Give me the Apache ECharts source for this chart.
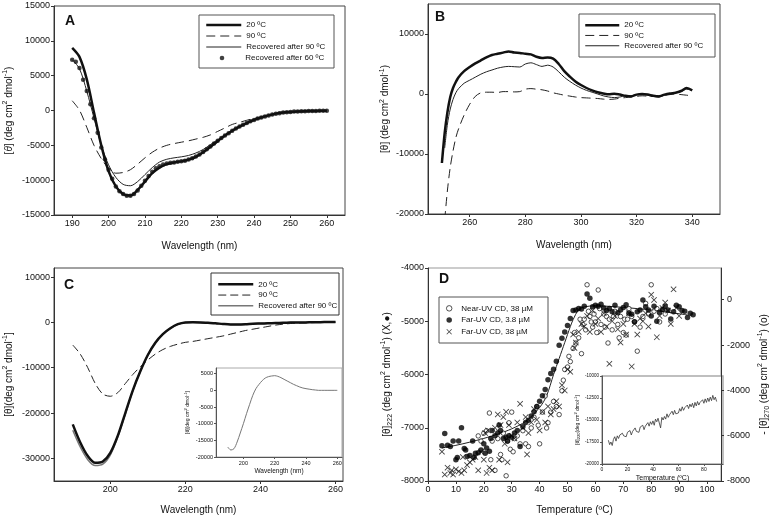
<!DOCTYPE html>
<html><head><meta charset="utf-8">
<script src="https://cdn.jsdelivr.net/npm/echarts@6/dist/echarts.min.js"></script>
<style>html,body{margin:0;padding:0;background:#fff}#c{width:772px;height:520px}</style>
</head><body><div id="c"></div>
<script>
// ---------- Panel A (far-UV CD) ----------
const wlA = [190,192,194,196,198,200,202,204,206,208,210,212,214,216,218,220,222,224,226,228,230,232,234,236,238,240,242,244,246,248,250,252,254,256,258,260];
const a20 = [9000,7700,4500,-300,-5000,-8700,-10900,-12000,-12200,-11400,-10200,-9000,-8200,-7700,-7450,-7300,-7050,-6650,-6000,-5200,-4400,-3600,-2900,-2300,-1800,-1350,-1000,-700,-450,-300,-200,-130,-90,-70,-50,-40];
const a90 = [1400,50,-2400,-5000,-6900,-8300,-9000,-8900,-8500,-7700,-6800,-6000,-5400,-5000,-4750,-4550,-4350,-4100,-3850,-3500,-3000,-2500,-2000,-1700,-1400,-1150,-900,-650,-450,-300,-200,-130,-90,-70,-50,-40];
const a90r = [7300,6000,2800,-1100,-5000,-7800,-9600,-10600,-10800,-10200,-9200,-8200,-7400,-7000,-6800,-6650,-6450,-6100,-5600,-4900,-4200,-3500,-2850,-2300,-1800,-1350,-1000,-700,-450,-300,-200,-130,-90,-70,-50,-40];
const wlA1 = [190,191,192,193,194,195,196,197,198,199,200,201,202,203,204,205,206,207,208,209,210,211,212,213,214,215,216,217,218,219,220,221,222,223,224,225,226,227,228,229,230,231,232,233,234,235,236,237,238,239,240,241,242,243,244,245,246,247,248,249,250,251,252,253,254,255,256,257,258,259,260];
const a60r = [7300,7000,6100,4400,2800,900,-1100,-3200,-5300,-7000,-8500,-9800,-10900,-11600,-12000,-12250,-12250,-12000,-11500,-10800,-10100,-9400,-8800,-8300,-8000,-7750,-7600,-7500,-7450,-7350,-7300,-7200,-7050,-6850,-6600,-6300,-5950,-5550,-5150,-4750,-4350,-3950,-3600,-3250,-2900,-2600,-2300,-2050,-1800,-1550,-1350,-1150,-1000,-850,-700,-580,-470,-380,-300,-250,-200,-160,-130,-110,-90,-80,-70,-60,-50,-50,-40];
const ticksAx = [190,200,210,220,230,240,250,260];

// ---------- Panel B (near-UV CD) ----------
const wlB = [250,251,252,253,254,255,256,258,260,262,264,266,268,270,272,274,276,278,280,282,284,286,288,290,292,294,296,298,300,302,304,306,308,310,312,314,316,318,320,322,324,326,328,330,332,334,336,338,340];
const b20 = [-11500,-6500,-3000,-500,1000,2000,2800,3800,4500,5100,5600,6100,6500,6700,6900,7100,6900,6850,6700,6600,6200,6000,6100,5900,5000,3800,2900,2100,1500,1000,600,300,100,-50,50,-100,-300,-400,-100,0,-100,-300,-400,-100,100,200,500,1000,600];
const b90 = [null,-21000,-16000,-12200,-9500,-7300,-5800,-3500,-1700,-400,200,300,300,250,400,400,350,400,800,900,800,700,500,200,0,-200,-350,-500,-600,-650,-700,-750,-850,-900,-850,-700,-600,-500,-400,-300,-350,-300,-250,-200,-100,0,-100,-200,-300];
const b90r = [null,-9000,-5000,-2500,-900,200,900,1800,2300,2800,3300,3700,4000,4300,4500,4600,4550,4500,5000,5200,4900,4600,4800,4500,3700,2800,2100,1500,1000,600,300,0,-300,-500,-600,-500,-300,-300,-100,0,-200,-400,-500,-200,0,200,400,800,700];
const ticksBx = [260,280,300,320,340];
const ticksBy = [-20000,-10000,0,10000];

// ---------- Panel C ----------
const wlC = [190,192,194,196,198,200,202,204,206,208,210,212,214,216,218,220,222,224,226,228,230,232,234,236,238,240,242,244,246,248,250,252,254,256,258,260];
const c20 = [-22500,-26500,-29500,-31000,-30700,-28800,-25000,-20000,-15000,-10800,-7200,-4500,-2600,-1300,-400,0,50,0,-100,-200,-350,-450,-450,-400,-300,-250,-200,-150,-100,-50,0,0,50,50,100,100];
const c90 = [-5000,-7000,-10000,-13500,-15800,-16300,-15500,-13500,-11500,-9800,-8300,-7000,-6000,-5300,-4800,-4400,-4200,-3900,-3600,-3300,-3000,-2600,-2200,-1800,-1500,-1200,-900,-600,-400,-250,-150,-100,-50,0,0,0];
const c90r = [-23800,-27500,-30300,-31600,-31300,-29300,-25300,-20200,-15100,-10800,-7200,-4500,-2600,-1300,-400,0,50,0,-100,-200,-350,-450,-450,-400,-300,-250,-200,-150,-100,-50,0,0,50,50,100,100];
const cInset = [-17000,-17900,-17500,-15500,-12800,-10000,-7000,-4200,-1500,500,1800,2900,3700,4100,4300,4400,4200,3800,3300,2800,2300,1800,1400,1000,700,500,350,200,100,0,0,0,0,0,0,0];
const ticksCx = [200,220,240,260];
const ticksCy = [-30000,-20000,-10000,0,10000];
const ticksCix = [200,220,240,260];
const ticksCiy = [-20000,-15000,-10000,-5000,0,5000];

// ---------- Panel D (thermal unfolding) ----------
const tFar38 = [5,6,7,8,9,10,10.5,11,12,13,13.5,14,15,16,16.5,17,18,19,20,20.5,21,22,22.5,23,24,25,25.5,26,27,28,28.5,29,30,31,32,33,34,35,36,37,38,39,40,41,42,43,44,45,46,47,48,49,50,51,52,53,54,55,56,57,58,59,60,61,62,63,64,65,66,67,68,69,70,71,72,73,74,75,76,77,78,79,80,81,82,83,84,85,86,87,88,89,90,91,92,93,94,95];
const vFar38 = [-7340,-7110,-7330,-7350,-7250,-7600,-7560,-7250,-7000,-7390,-7420,-7540,-7520,-7250,-7560,-7480,-7470,-7420,-7300,-7480,-7380,-7440,-7200,-7050,-7150,-7100,-6950,-7050,-7200,-7180,-7250,-7150,-7180,-7100,-7050,-7350,-6980,-6900,-6860,-6780,-6700,-6600,-6500,-6400,-6280,-6100,-5980,-5900,-5750,-5450,-5320,-5200,-5080,-4950,-4800,-4790,-4760,-4770,-4720,-4490,-4570,-4730,-4700,-4720,-4680,-4750,-4800,-4760,-4820,-4700,-4840,-4790,-4740,-4690,-4850,-4870,-5010,-4820,-4790,-4600,-4730,-4790,-4900,-4720,-5000,-4830,-4780,-4720,-4790,-4960,-4820,-4700,-4730,-4800,-4810,-4930,-4850,-4880];
const tFar380 = [5,6,7,8,8.5,9,10,11,12,12.5,13,14,15,16,17,18,19,20,20.5,21,21.5,22,23,24,25,25.5,26,27,27.5,28,28.5,29,30,31,32,33,34,35,35.5,36,37,38,39,40,41,42,43,44,45,46,47,48,49,50,51,52,52.5,53,54,55,56,57,58,59,60,61,62,63,64,65,66,67,68,69,70,71,72,73,74,75,76,77,78,79,80,81,82,83,84,85,86,87,88,89,90];
const vFar380 = [-7450,-7880,-7750,-7850,-7800,-7880,-7780,-7820,-7850,-7550,-7800,-7700,-7650,-7600,-7550,-7800,-7450,-7600,-7100,-7850,-7050,-7750,-7800,-7000,-6750,-7600,-6950,-6800,-7300,-6700,-7650,-6950,-7150,-7200,-6900,-6550,-7000,-6800,-7500,-7100,-6900,-6650,-6850,-7050,-6700,-6900,-6600,-6750,-6650,-6500,-6600,-6200,-6300,-5900,-5950,-5250,-5500,-5400,-5200,-5050,-5100,-4900,-5200,-4800,-5050,-4950,-5200,-4850,-5100,-5800,-5000,-4900,-5150,-5400,-5050,-5250,-4850,-5850,-5050,-5250,-4950,-5000,-4850,-5100,-4500,-4600,-5300,-4900,-4750,-4650,-4800,-5050,-4400,-4750,-4900];
const tNear = [18,19,20,21,22,22.5,23,24,25,26,26.5,27,28,28.5,29,29.5,30,30.5,31,32,33,34,35,36,37,38,39,39.5,40,41,42,42.5,43,44,45,46,47,48,48.5,49,50,50.5,51,52,52.5,53,54,54.5,55,55.5,56,56.5,57,57.5,58,58.5,59,59.5,60,60.5,61,61.5,62,63,63.5,64,64.5,65,66,66.5,67,68,68.5,69,70,70.5,71,71.5,72,73,74,75,76,77,78,79,80,81,82,83,85];
const vNear = [-6010,-6240,-5890,-5780,-5000,-7060,-6240,-7530,-6130,-6830,-7060,-5890,-7770,-6240,-5430,-6600,-4960,-6710,-6130,-6010,-6360,-5780,-6360,-6480,-5660,-5190,-4720,-5540,-6360,-4960,-4250,-5660,-5430,-4960,-4490,-4720,-5070,-4020,-3550,-3080,-2970,-2500,-2730,-2150,-1450,-1910,-1680,-860,-2380,-1090,-860,-1330,660,-510,-740,-980,-1210,-630,-980,-1450,430,-390,-1090,-630,-1210,-740,-1910,-860,-1330,-740,-510,-1090,-1680,-740,-1450,-860,-1560,-860,-390,-740,-980,-2270,-1210,-740,-160,-630,660,-510,-390,-980,-630];
const tFit = [5,10,15,20,25,30,35,40,42.5,45,47,49,51,52,54,56,60,70,80,90,93];
const vFit = [-7380,-7330,-7270,-7200,-7120,-7020,-6880,-6620,-6400,-6000,-5700,-5400,-5100,-4970,-4780,-4730,-4710,-4740,-4790,-4860,-4880];
const tInset = [5,6,7,8,9,10,11,12,13,14,15,16,17,18,19,20,21,22,23,24,25,26,27,28,29,30,31,32,33,34,35,36,37,38,39,40,41,42,43,44,45,46,47,48,49,50,51,52,53,54,55,56,57,58,59,60,61,62,63,64,65,66,67,68,69,70,71,72,73,74,75,76,77,78,79,80,81,82,83,84,85,86,87,88,89,90];
const vInset = [-17300,-17800,-17500,-17900,-17200,-16900,-17400,-16800,-17100,-16700,-16900,-16500,-16800,-16600,-16900,-16400,-16600,-16200,-16700,-16300,-16400,-15900,-16300,-16100,-16400,-15800,-16000,-15600,-16100,-15700,-15800,-15300,-15700,-15200,-15500,-15100,-15600,-14900,-15200,-14800,-15000,-15900,-14700,-15000,-14600,-14900,-14300,-14700,-14400,-14600,-14000,-14400,-13900,-14300,-14100,-14200,-13700,-14000,-13500,-13900,-13600,-13800,-13300,-13700,-13200,-13500,-13100,-13600,-13000,-13400,-12900,-13300,-13000,-13200,-12700,-13100,-12600,-13000,-12500,-12900,-12400,-12800,-12200,-12700,-12400,-12900];
const ticksDx = [0,10,20,30,40,50,60,70,80,90,100];
const ticksDyR = [-8000,-6000,-4000,-2000,0];
const ticksDix = [0,20,40,60,80];

// ---------- helpers ----------
const F = '"Liberation Sans", Arial, sans-serif';
const zip = (xs, ys) => xs.map((x, i) => [x, ys[i]]);
function rich(s) {
  return {
    sup: {fontFamily: F, fontSize: Math.round(s * 0.7), lineHeight: Math.round(s * 0.8), verticalAlign: 'top', color: '#111'},
    sub: {fontFamily: F, fontSize: Math.round(s * 0.7), lineHeight: Math.round(s * 0.8), verticalAlign: 'bottom', color: '#111'},
    it: {fontFamily: F, fontSize: s, fontStyle: 'italic', color: '#111'}
  };
}
function ax(o) {
  const nfs = o.nfs || 10, fs = o.fs || 9;
  const a = {
    type: 'value', gridIndex: o.grid, min: o.min, max: o.max,
    position: o.pos,
    name: o.name, nameLocation: 'middle', nameGap: o.gap,
    nameTextStyle: {fontFamily: F, fontSize: nfs, color: '#111', lineHeight: Math.round(nfs * 1.4), rich: rich(nfs)},
    axisLine: {show: true, onZero: false, lineStyle: {color: o.lc || '#333', width: 1}},
    axisTick: {show: true, length: o.tl || 3, inside: false, lineStyle: {color: o.lc || '#333'}},
    axisLabel: {fontFamily: F, fontSize: fs, color: '#111', margin: o.margin || 4, formatter: v => String(v)},
    splitLine: {show: false}
  };
  if (o.rot !== undefined) a.nameRotate = o.rot;
  if (o.ticks) { a.axisLabel.customValues = o.ticks; a.axisTick.customValues = o.ticks; }
  else { a.interval = o.interval; }
  return a;
}
const ZW = '\u200b';
const lineS = (name, x, y, yi, data, width, color, dash, z) => ({
  type: 'line', name, xAxisIndex: x, yAxisIndex: yi, data, symbol: 'none', showSymbol: false,
  smooth: 0.3, animation: false, z: z || 2,
  lineStyle: {width, color, type: dash || 'solid'}, itemStyle: {color}
});
const crossPath = 'path://M1,0L5,4L9,0L10,1L6,5L10,9L9,10L5,6L1,10L0,9L4,5L0,1Z';

const nA = ['20 ºC', '90 ºC', 'Recovered after 90 ºC', 'Recovered after 60 ºC'];
const nB = ['20 ºC' + ZW, '90 ºC' + ZW, 'Recovered after 90 ºC' + ZW];
const nC = ['20 ºC' + ZW + ZW, '90 ºC' + ZW + ZW, 'Recovered after 90 ºC' + ZW + ZW];
const nD = ['Near-UV CD, 38 µM', 'Far-UV CD, 3.8 µM', 'Far-UV CD, 38 µM'];

const legTxt = (lh) => ({fontFamily: F, fontSize: 8, color: '#111', lineHeight: lh});
const lineItem = (name, w) => ({name, lineStyle: {width: w}, itemStyle: {opacity: 0}});

const option = {
  animation: false,
  textStyle: {fontFamily: F},
  grid: [
    {left: 54, top: 6, width: 291, height: 209, show: true, borderColor: '#444', borderWidth: 1},
    {left: 428, top: 4, width: 292, height: 210, show: true, borderColor: '#444', borderWidth: 1},
    {left: 54, top: 268, width: 289, height: 213, show: true, borderColor: '#444', borderWidth: 1},
    {left: 428, top: 268, width: 293, height: 213, show: true, borderColor: '#999', borderWidth: 1},
    {left: 216, top: 368, width: 126, height: 89, show: true, borderColor: '#aaa', borderWidth: 1, backgroundColor: '#fff'},
    {left: 602, top: 376, width: 121, height: 88, show: true, borderColor: '#aaa', borderWidth: 1.5, backgroundColor: '#fff'}
  ],
  xAxis: [
    ax({grid: 0, min: 185, max: 265, ticks: ticksAx, pos: 'bottom', name: 'Wavelength (nm)', gap: 24}),
    ax({grid: 1, min: 245, max: 350, ticks: ticksBx, pos: 'bottom', name: 'Wavelength (nm)', gap: 24}),
    ax({grid: 2, min: 185, max: 262, ticks: ticksCx, pos: 'bottom', name: 'Wavelength (nm)', gap: 22}),
    ax({grid: 3, min: 0, max: 105, ticks: ticksDx, pos: 'bottom', name: 'Temperature (ºC)', gap: 22}),
    ax({grid: 4, min: 182.5, max: 263, ticks: ticksCix, pos: 'bottom', name: 'Wavelength (nm)', gap: 6, fs: 5.5, nfs: 6.5, margin: 3, tl: 2, lc: '#555'}),
    ax({grid: 5, min: 0, max: 95, ticks: ticksDix, pos: 'bottom', name: 'Temperature (ºC)', gap: 6, fs: 5, nfs: 7, margin: 3, tl: 2, lc: '#555'})
  ],
  yAxis: [
    ax({grid: 0, min: -15000, max: 15000, interval: 5000, pos: 'left', name: '[{it|θ}] (deg cm{sup|2} dmol{sup|-1})', gap: 38, rot: 90}),
    ax({grid: 1, min: -20000, max: 15000, ticks: ticksBy, pos: 'left', name: '[θ] (deg cm{sup|2} dmol{sup|-1})', gap: 34, rot: 90}),
    ax({grid: 2, min: -35000, max: 12000, ticks: ticksCy, pos: 'left', name: '[θ](deg cm{sup|2} dmol{sup|-1}]', gap: 38, rot: 90}),
    ax({grid: 3, min: -8000, max: -4000, interval: 1000, pos: 'left', name: '[θ]{sub|222} (deg cm{sup|2} dmol{sup|-1}) (X,●)', gap: 34, rot: 90}),
    ax({grid: 3, min: -8000, max: 1400, ticks: ticksDyR, pos: 'right', name: '- [θ]{sub|270} (deg cm{sup|2} dmol{sup|-1}) (o)', gap: 36, rot: 90, margin: 6}),
    ax({grid: 4, min: -20000, max: 6700, ticks: ticksCiy, pos: 'left', name: '[θ](deg cm{sup|2} dmol{sup|-1}]', gap: 25, fs: 5.5, nfs: 5, margin: 3, tl: 2, rot: 90, lc: '#555'}),
    ax({grid: 5, min: -20000, max: -10000, interval: 2500, pos: 'left', name: '[θ]{sub|220}(deg cm{sup|2} dmol{sup|-1}]', gap: 17, fs: 4.5, nfs: 5, margin: 3, tl: 2, rot: 90, lc: '#555'})
  ],
  legend: [
    {left: 205, top: 19.5, orient: 'vertical', padding: 0, itemGap: 0, itemWidth: 35, itemHeight: 11, selectedMode: false, textStyle: legTxt(11),
      data: [lineItem(nA[0], 2.5), lineItem(nA[1], 1), lineItem(nA[2], 1)]},
    {left: 219.7, top: 52.5, orient: 'vertical', padding: 0, itemGap: 0, itemWidth: 4.6, itemHeight: 4.6, selectedMode: false,
      textStyle: Object.assign(legTxt(11), {padding: [0, 0, 0, 16]}),
      data: [nA[3]]},
    {left: 584, top: 20, orient: 'vertical', padding: 0, itemGap: 0, itemWidth: 34, itemHeight: 10.3, selectedMode: false, textStyle: legTxt(10.3),
      data: [lineItem(nB[0], 2.5), lineItem(nB[1], 1), lineItem(nB[2], 1)]},
    {left: 217, top: 279, orient: 'vertical', padding: 0, itemGap: 0, itemWidth: 35, itemHeight: 10.7, selectedMode: false, textStyle: legTxt(10.7),
      data: [lineItem(nC[0], 2.5), lineItem(nC[1], 1), lineItem(nC[2], 1.5)]},
    {left: 446, top: 302.5, orient: 'vertical', padding: 0, itemGap: 0, itemWidth: 14, itemHeight: 5.5, selectedMode: false, textStyle: legTxt(11.7),
      data: [{name: nD[0], itemStyle: {borderWidth: 0.9}}, nD[1], nD[2]]}
  ],
  graphic: [
    {type: 'rect', shape: {x: 199, y: 15, width: 135, height: 53}, style: {fill: '#fff', stroke: '#555', lineWidth: 1}, z: 3},
    {type: 'rect', shape: {x: 579, y: 14, width: 136, height: 43}, style: {fill: '#fff', stroke: '#555', lineWidth: 1}, z: 3},
    {type: 'rect', shape: {x: 211, y: 273, width: 128, height: 42}, style: {fill: '#fff', stroke: '#333', lineWidth: 1}, z: 3},
    {type: 'rect', shape: {x: 439, y: 297, width: 109, height: 46}, style: {fill: '#fff', stroke: '#555', lineWidth: 1}, z: 3},
    {type: 'text', x: 65, y: 14, z: 5, style: {text: 'A', font: 'bold 14px ' + F, fill: '#111', verticalAlign: 'top'}},
    {type: 'text', x: 435, y: 10, z: 5, style: {text: 'B', font: 'bold 14px ' + F, fill: '#111', verticalAlign: 'top'}},
    {type: 'text', x: 64, y: 278, z: 5, style: {text: 'C', font: 'bold 14px ' + F, fill: '#111', verticalAlign: 'top'}},
    {type: 'text', x: 439, y: 272, z: 5, style: {text: 'D', font: 'bold 14px ' + F, fill: '#111', verticalAlign: 'top'}}
  ],
  series: [
    // A
    lineS(nA[1], 0, 0, 0, zip(wlA, a90), 1, '#222', [9, 5]),
    lineS(nA[2], 0, 0, 0, zip(wlA, a90r), 1, '#222'),
    lineS(nA[0], 0, 0, 0, zip(wlA, a20), 2.5, '#111'),
    {type: 'scatter', name: nA[3], xAxisIndex: 0, yAxisIndex: 0, data: zip(wlA1, a60r), symbol: 'circle', symbolSize: 4.5, itemStyle: {color: '#111'}, z: 3},
    // B
    lineS(nB[1], 1, 1, 1, zip(wlB, b90), 1, '#222', [9, 5]),
    lineS(nB[2], 1, 1, 1, zip(wlB, b90r), 1, '#222'),
    lineS(nB[0], 1, 1, 1, zip(wlB, b20), 2.5, '#111'),
    // C
    lineS(nC[1], 2, 2, 2, zip(wlC, c90), 1, '#222', [8, 4]),
    lineS(nC[2], 2, 2, 2, zip(wlC, c90r), 1.5, '#777'),
    lineS(nC[0], 2, 2, 2, zip(wlC, c20), 2.5, '#111'),
    lineS('inset C', 4, 4, 5, zip(wlC, cInset), 1, '#777'),
    // D
    lineS('fit', 3, 3, 3, zip(tFit, vFit), 1, '#222'),
    {type: 'scatter', name: nD[0], xAxisIndex: 3, yAxisIndex: 4, data: zip(tNear, vNear), symbol: 'circle', symbolSize: 4.5, itemStyle: {color: '#fff', borderColor: '#111', borderWidth: 0.9}, z: 3},
    {type: 'scatter', name: nD[2], xAxisIndex: 3, yAxisIndex: 3, data: zip(tFar380, vFar380), symbol: crossPath, symbolSize: 6, itemStyle: {color: '#111'}, z: 3},
    {type: 'scatter', name: nD[1], xAxisIndex: 3, yAxisIndex: 3, data: zip(tFar38, vFar38), symbol: 'circle', symbolSize: 5.5, itemStyle: {color: '#000'}, z: 4},
    Object.assign(lineS('inset D', 5, 5, 6, zip(tInset, vInset), 0.8, '#333'), {smooth: false})
  ]
};
const chart = echarts.init(document.getElementById('c'), null, {renderer: 'canvas'});
chart.setOption(option);
</script></body></html>
